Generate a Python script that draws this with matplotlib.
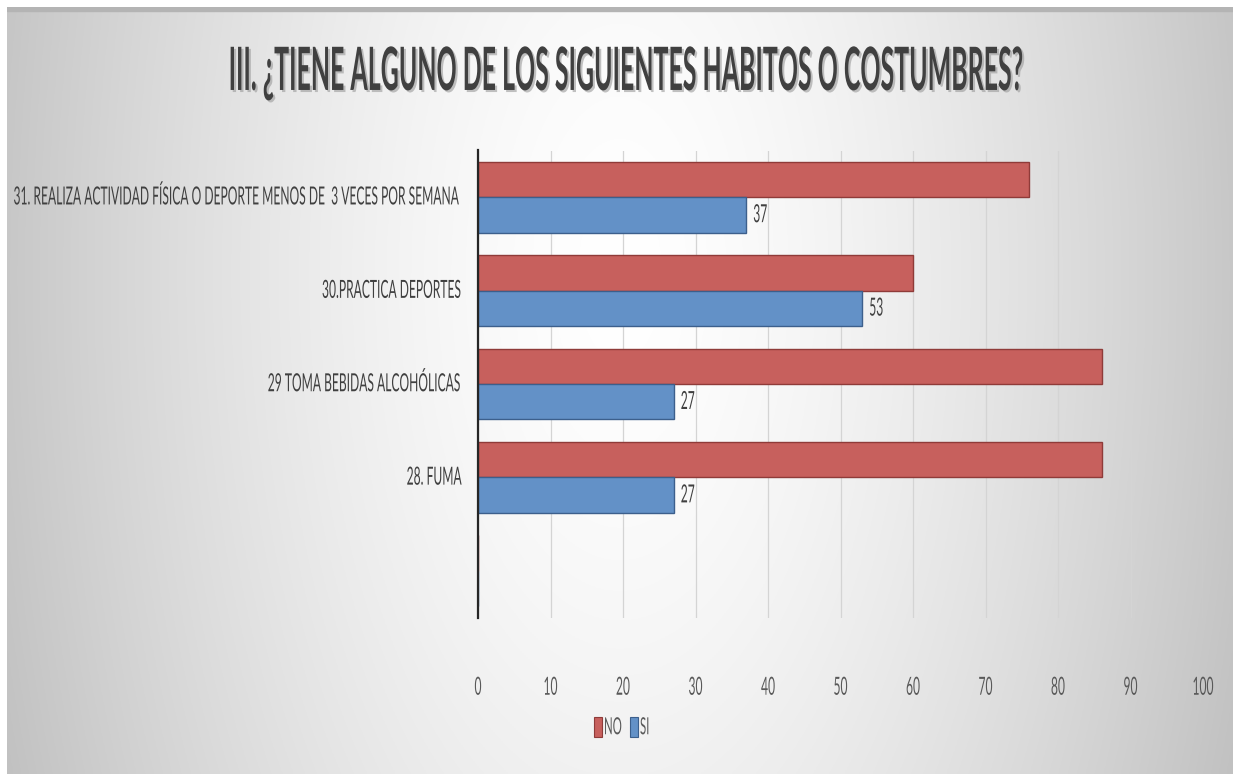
import matplotlib
matplotlib.use("Agg")
import matplotlib.pyplot as plt
import matplotlib.patheffects as pe
from matplotlib import font_manager
from matplotlib.font_manager import FontProperties
from matplotlib.patches import Rectangle
from matplotlib.text import Text
from matplotlib.transforms import Affine2D, Bbox, ScaledTranslation
import numpy as np

# ---- data ----
categories = [
    "",
    "28. FUMA",
    "29 TOMA BEBIDAS ALCOHÓLICAS",
    "30.PRACTICA DEPORTES",
    "31. REALIZA ACTIVIDAD FÍSICA O DEPORTE MENOS DE  3 VECES POR SEMANA",
]
no_values = [None, 86, 86, 60, 76]
si_values = [None, 27, 27, 53, 37]
series_names = ["NO", "SI"]
series_colors = ["#c7605d", "#6391c7"]
series_edges = ["#8f3b39", "#3c5f8c"]
x_ticks = [0, 10, 20, 30, 40, 50, 60, 70, 80, 90, 100]
title = "III. ¿TIENE ALGUNO DE LOS SIGUIENTES HABITOS O COSTUMBRES?"

# ---- fonts ----
available = {f.name for f in font_manager.fontManager.ttflist}
base_font = "Lato" if "Lato" in available else "DejaVu Sans"
plt.rcParams["font.family"] = [base_font, "DejaVu Sans"]


class _Stretch(pe.AbstractPathEffect):
    """Stretch glyph outlines vertically around the text's anchor point."""

    def __init__(self, owner, inner=None):
        super().__init__()
        self.owner = owner
        self.inner = inner or [pe.Normal()]

    def draw_path(self, renderer, gc, tpath, affine, rgbFace=None):
        y0 = self.owner.anchor_y()
        stretch = Affine2D().translate(0, -y0).scale(1, self.owner.yscale).translate(0, y0)
        for eff in self.inner:
            eff.draw_path(renderer, gc, tpath, affine + stretch, rgbFace)


class TallText(Text):
    """Text with tall, narrow lettering (vertical stretch factor)."""

    def __init__(self, *args, yscale=1.0, effects=None, **kwargs):
        super().__init__(*args, **kwargs)
        self.yscale = yscale
        self.set_path_effects([_Stretch(self, effects)])

    def anchor_y(self):
        return self.get_transform().transform(self.get_unitless_position())[1]

    def get_window_extent(self, renderer=None, dpi=None):
        bb = super().get_window_extent(renderer, dpi)
        y0 = self.anchor_y()
        s = self.yscale
        return Bbox.from_extents(bb.x0, y0 + (bb.y0 - y0) * s, bb.x1, y0 + (bb.y1 - y0) * s)


W, H, DPI = 1233, 774, 100
fig = plt.figure(figsize=(W / DPI, H / DPI), dpi=DPI, facecolor="white")
renderer = fig.canvas.get_renderer()

# letter heights correspond to these sizes; widths are narrowed by the stretch
label_h = 18
title_h = 43
label_prop = FontProperties(family=[base_font, "DejaVu Sans"], size=label_h)
title_prop = FontProperties(family=[base_font, "DejaVu Sans"], size=title_h, weight="bold")
longest = max(categories, key=len)
w_label, _, _ = renderer.get_text_width_height_descent(longest, label_prop, ismath=False)
w_title, _, _ = renderer.get_text_width_height_descent(title, title_prop, ismath=False)
label_k = 444 / w_label
title_k = 794 / w_title
label_size = label_h * label_k
legend_size = 17 * label_k
title_size = title_h * title_k

# ---- soft background ----
bg = fig.add_axes([7 / W, 0, 1 - 7 / W, 1 - 7 / H], zorder=0)
gx = np.linspace(0, 1, 600)
gy = np.linspace(0, 1, 400)
X, Y = np.meshgrid(gx, gy)
r = np.sqrt(((X - 0.50) / 0.52) ** 2 + ((Y - 0.35) / 1.7) ** 2)
shade = 1 - 0.23 * np.clip(r, 0, 1.2) ** 1.5
img = np.dstack([shade, shade, shade])
bg.imshow(np.clip(img, 0, 1), extent=[0, 1, 0, 1], aspect="auto", origin="upper")
bg.add_patch(Rectangle((0, 0.995), 1, 0.005, color="#b4b4b4", transform=bg.transAxes))
bg.set_axis_off()

# ---- chart axes ----
ax = fig.add_axes([478 / W, 1 - 617.5 / H, (1203 - 478) / W, (617.5 - 150.5) / H], zorder=1)
ax.patch.set_alpha(0)

pos = np.arange(len(categories))
bh = 0.38
no_x = [v if v is not None else 0 for v in no_values]
si_x = [v if v is not None else 0 for v in si_values]
ax.barh(pos + bh / 2, no_x, height=bh, color=series_colors[0], edgecolor=series_edges[0],
        linewidth=1.0, zorder=3)
ax.barh(pos - bh / 2, si_x, height=bh, color=series_colors[1], edgecolor=series_edges[1],
        linewidth=1.0, zorder=3)

ax.set_xlim(0, 100)
ax.set_ylim(-0.5, len(categories) - 0.5)
ax.set_xticks(x_ticks)
ax.set_yticks(pos)
ax.tick_params(axis="both", length=0, labelbottom=False, labelleft=False)
ax.xaxis.grid(True, color="#d4d4d4", linewidth=0.9, zorder=0)
ax.set_axisbelow(True)
for s in ["top", "right", "bottom"]:
    ax.spines[s].set_visible(False)
ax.spines["left"].set_color("#262626")
ax.spines["left"].set_linewidth(1.6)
ax.spines["left"].set_zorder(5)


def px(dx, dy):
    return ScaledTranslation(dx / DPI, dy / DPI, fig.dpi_scale_trans)


# category labels
for p, lab in zip(pos, categories):
    fig.add_artist(TallText(0, p, lab, yscale=1 / label_k, fontsize=label_size,
                            color="#404040", ha="right", va="center",
                            transform=ax.get_yaxis_transform() + px(-16, 0)))

# x tick labels
for t in x_ticks:
    fig.add_artist(TallText(t, 0, str(t), yscale=1 / label_k, fontsize=label_size,
                            color="#595959", ha="center", va="center",
                            transform=ax.get_xaxis_transform() + px(0, -70)))

# value labels on the SI bars
for p, v in zip(pos, si_values):
    if v is not None:
        fig.add_artist(TallText(v, p - bh / 2, str(v), yscale=1 / label_k,
                                fontsize=label_size, color="#404040", ha="left",
                                va="center", transform=ax.transData + px(7, 0)))

# ---- legend ----
leg_y = 1 - 727 / H
leg_items = [(594, 604), (630, 640)]
for (sq_x, tx_x), name, fc, ec in zip(leg_items, series_names, series_colors, series_edges):
    fig.add_artist(Rectangle((sq_x / W, leg_y - 10 / H), 8 / W, 20 / H, facecolor=fc,
                             edgecolor=ec, linewidth=0.8, transform=fig.transFigure))
    fig.add_artist(TallText(tx_x / W, leg_y, name, yscale=1 / label_k, fontsize=legend_size,
                            color="#595959", ha="left", va="center",
                            transform=fig.transFigure))

# ---- title ----
fig.add_artist(TallText(625 / W, 1 - 72 / H, title, yscale=1 / title_k,
                        fontsize=title_size, fontweight="bold", color="#404040",
                        ha="center", va="center", transform=fig.transFigure,
                        effects=[pe.SimplePatchShadow(offset=(1.5, -1.5),
                                                      shadow_rgbFace="#9a9a9a",
                                                      alpha=0.6),
                                 pe.Normal()]))

fig.savefig("out.png", dpi=DPI, facecolor="white")
